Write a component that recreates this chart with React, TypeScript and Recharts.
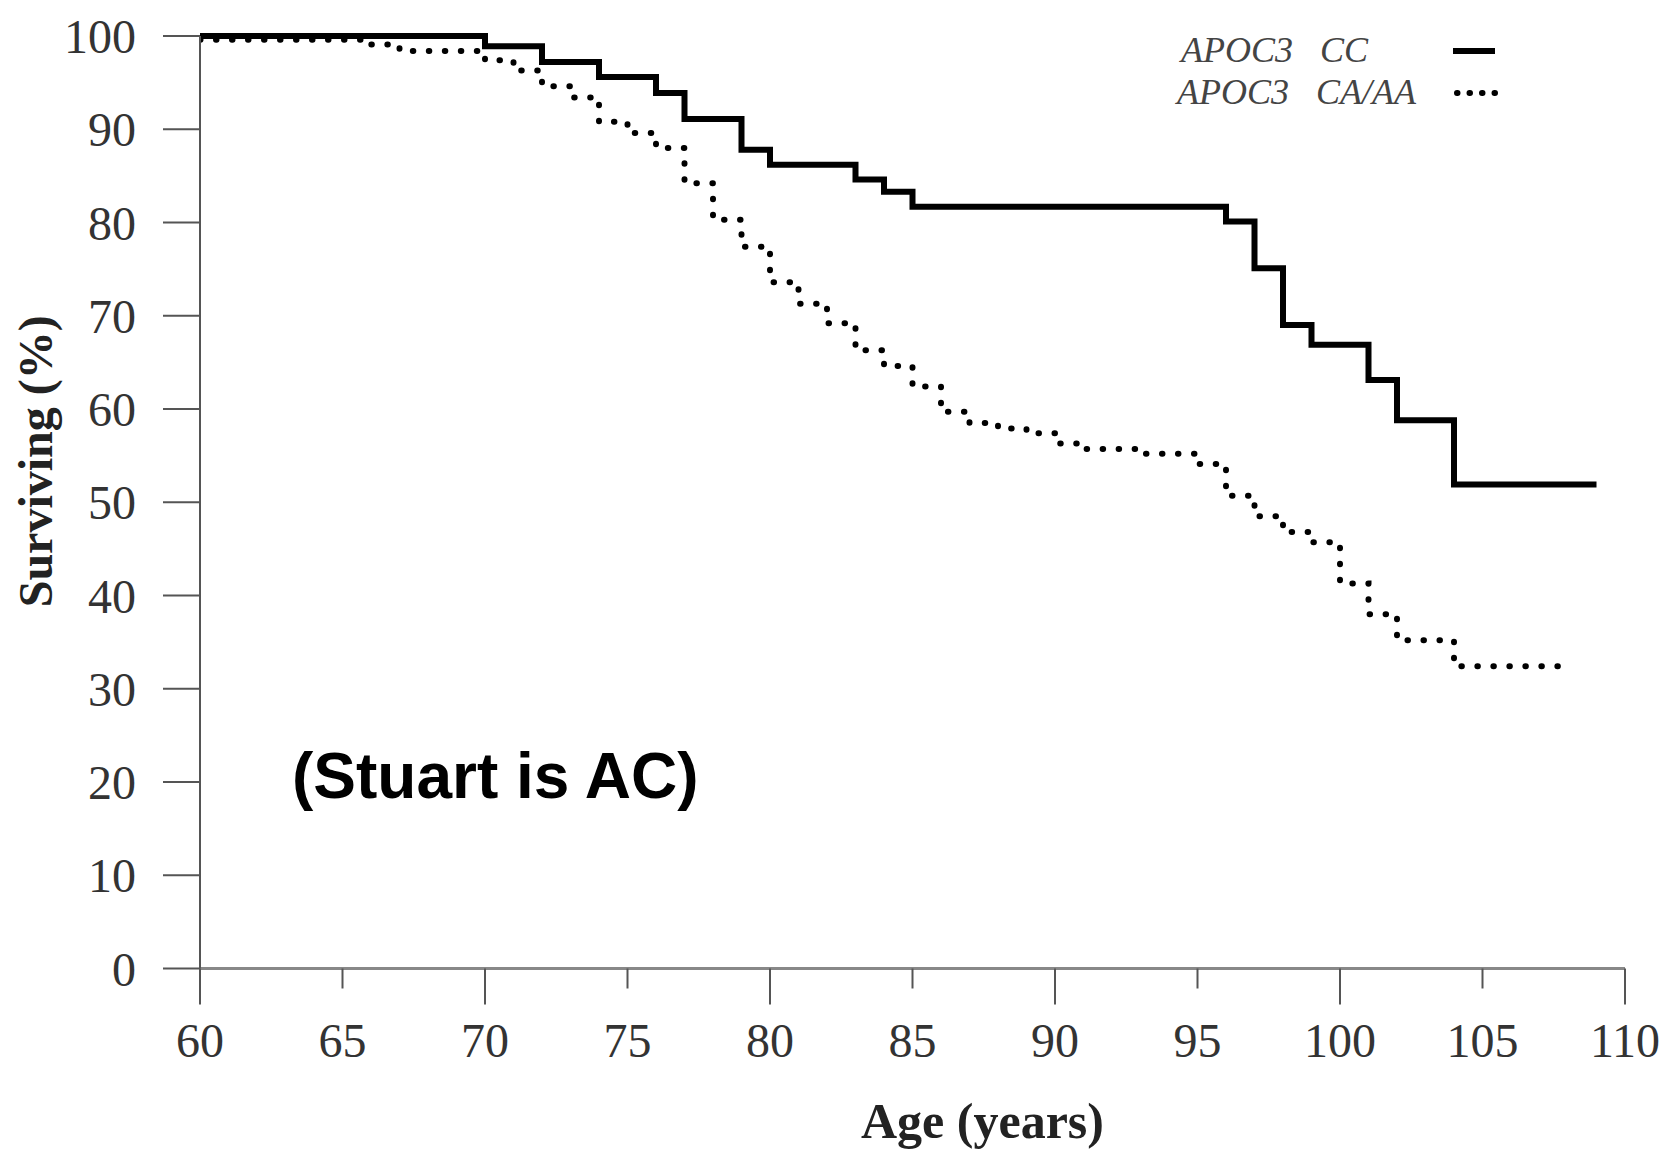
import React from "react";
import { LineChart, Line, XAxis, YAxis, Legend, Customized } from "recharts";

// Kaplan-Meier steps (age at step, % surviving after it)
const ccAges = [60, 70, 72, 74, 76, 77, 79, 80, 83, 84, 85, 96, 97, 98, 99, 101, 102, 104, 109];
const ccSurv = [100, 98.9, 97.2, 95.6, 93.9, 91.1, 87.8, 86.2, 84.6, 83.3, 81.7, 80.1, 75.1, 69.0, 66.9, 63.1, 58.8, 51.9, 51.9];

const caAges = [60, 66, 67, 70, 71, 72, 73, 74, 75, 76, 77, 78, 79, 80, 81, 82, 83, 84, 85, 86, 87, 88, 89, 90, 91, 93, 95, 96, 97, 98, 99, 100, 101, 102, 104, 108];
const caSurv = [99.6, 99.1, 98.4, 97.4, 96.3, 94.6, 93.4, 90.8, 89.6, 88.0, 84.2, 80.3, 77.4, 73.6, 71.3, 69.2, 66.3, 64.6, 62.4, 59.7, 58.5, 57.9, 57.4, 56.3, 55.7, 55.2, 54.1, 50.7, 48.5, 46.8, 45.7, 41.3, 38.0, 35.2, 32.4, 32.4];

const ageTicks = [60, 65, 70, 75, 80, 85, 90, 95, 100, 105, 110];
const survTicks = [0, 10, 20, 30, 40, 50, 60, 70, 80, 90, 100];

const ccLabel = ["APOC3", "CC"];
const caLabel = ["APOC3", "CA/AA"];

const ccData = ccAges.map((age, i) => ({ age, surv: ccSurv[i] }));
const caData = caAges.map((age, i) => ({ age, surv: caSurv[i] }));

const serif = "'Liberation Serif', 'Times New Roman', serif";

const AgeTick = (props: any) => {
  const { x, y, payload } = props;
  const len = payload.value % 10 === 0 ? 36 : 20;
  return (
    <g>
      <line x1={x} y1={y} x2={x} y2={y + len} stroke="#555" strokeWidth={2} />
      <text x={x} y={y + 88} textAnchor="middle" fill="#333" fontSize={48} fontFamily={serif}>
        {payload.value}
      </text>
    </g>
  );
};

const LegendBox = () => (
  <svg width={360} height={100} style={{ display: "block" }}>
    <g fontFamily={serif} fontStyle="italic" fontSize={36} fill="#444">
      <text x={11} y={42}>{ccLabel[0]}</text>
      <text x={150} y={42}>{ccLabel[1]}</text>
      <text x={7} y={84}>{caLabel[0]}</text>
      <text x={146} y={84}>{caLabel[1]}</text>
    </g>
    <line x1={283} y1={31} x2={325} y2={31} stroke="#000" strokeWidth={6} />
    <line x1={287} y1={73} x2={326} y2={73} stroke="#000" strokeWidth={6} strokeDasharray="0.5 12" strokeLinecap="round" />
  </svg>
);

const Note = () => (
  <text x={292} y={798} fontFamily="'Liberation Sans', Arial, sans-serif" fontWeight="bold" fontSize={64} fill="#000">
    (Stuart is AC)
  </text>
);

export default function App() {
  return (
    <div style={{ position: "absolute", left: 0, top: 0, width: 1665, height: 1153, background: "#fff" }}>
      <LineChart width={1665} height={1153} margin={{ top: 36, right: 40, left: 0, bottom: 0 }}>
        <XAxis
          type="number"
          dataKey="age"
          domain={[60, 110]}
          ticks={ageTicks}
          interval={0}
          allowDataOverflow
          height={184.5}
          tickSize={0}
          tickMargin={0}
          tickLine={false}
          tick={<AgeTick />}
          axisLine={{ stroke: "#888", strokeWidth: 3 }}
          label={{
            content: (p: any) => {
              const vb = p.viewBox;
              return (
                <text x={vb.x + vb.width / 2 + 70} y={vb.y + vb.height - 15} textAnchor="middle"
                  fontFamily={serif} fontWeight="bold" fontSize={50} fill="#222">
                  Age (years)
                </text>
              );
            },
          }}
        />
        <YAxis
          type="number"
          dataKey="surv"
          domain={[0, 100]}
          ticks={survTicks}
          interval={0}
          width={200}
          tickSize={37}
          tickMargin={27}
          axisLine={{ stroke: "#555", strokeWidth: 2 }}
          tickLine={{ stroke: "#555", strokeWidth: 2 }}
          tick={{ fill: "#333", fontSize: 48, fontFamily: serif }}
          label={{
            content: (p: any) => {
              const vb = p.viewBox;
              const cx = vb.x + 52;
              const cy = vb.y + vb.height / 2 - 41;
              return (
                <text x={cx} y={cy} transform={`rotate(-90 ${cx} ${cy})`} textAnchor="middle"
                  fontFamily={serif} fontWeight="bold" fontSize={48} fill="#222">
                  Surviving (%)
                </text>
              );
            },
          }}
        />
        <Legend
          layout="vertical"
          align="center"
          verticalAlign="middle"
          content={<LegendBox />}
          wrapperStyle={{ left: 1170, top: 20, width: 360, height: 100 }}
        />
        <Line
          data={ccData}
          dataKey="surv"
          type="stepAfter"
          stroke="#000"
          strokeWidth={6}
          dot={false}
          activeDot={false}
          isAnimationActive={false}
        />
        <Line
          data={caData}
          dataKey="surv"
          type="stepAfter"
          stroke="#000"
          strokeWidth={6}
          strokeDasharray="0.5 15.5"
          strokeLinecap="round"
          dot={false}
          activeDot={false}
          isAnimationActive={false}
        />
        <Customized component={Note} />
      </LineChart>
    </div>
  );
}
